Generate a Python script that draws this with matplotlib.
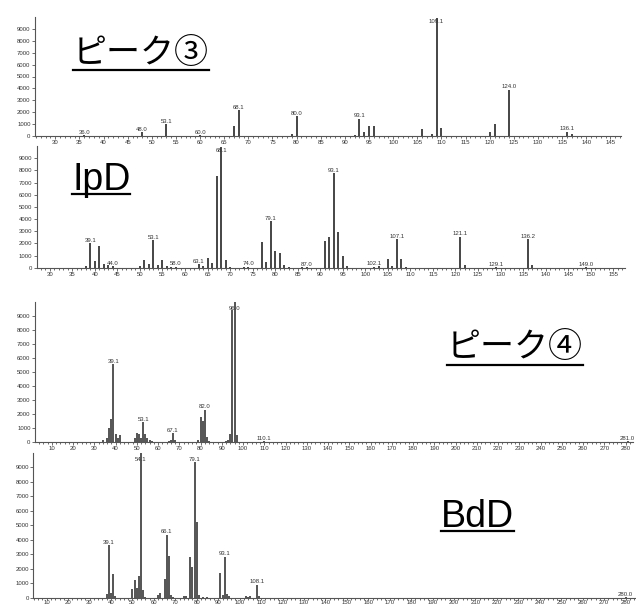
import matplotlib
matplotlib.use("Agg")
import matplotlib.pyplot as plt
from matplotlib.ticker import MultipleLocator
from matplotlib.lines import Line2D

# ---------------- data ----------------
# Panel A: ピーク③
a_mz  = [36, 48, 53, 60, 67, 68, 79, 80, 92, 93, 94, 95, 96, 106, 108, 109, 110, 120, 121, 124, 136, 137]
a_int = [60, 300, 1000, 60, 850, 2150, 200, 1650, 60, 1450, 300, 870, 870, 600, 150, 9950, 700, 300, 1000, 3900, 370, 150]
a_lbl_mz = [36, 48, 53, 60, 68, 80, 93, 109, 124, 136]
a_lbl    = ["36.0", "48.0", "53.1", "60.0", "68.1", "80.0", "93.1", "109.1", "124.0", "136.1"]

# Panel B: IpD
b_mz  = [38, 39, 40, 41, 42, 43, 44, 50, 51, 52, 53, 54, 55, 56, 57, 58, 63, 64, 65, 66, 67, 68, 69, 70,
         73, 74, 77, 78, 79, 80, 81, 82, 83, 86, 87, 91, 92, 93, 94, 95, 96, 102, 103, 105, 106, 107, 108, 109,
         121, 122, 129, 136, 137, 149]
b_int = [100, 2000, 550, 1780, 270, 250, 100, 150, 600, 300, 2250, 250, 650, 100, 80, 80, 300, 150, 820, 400, 7550, 9950, 650, 80,
         50, 80, 2100, 500, 3800, 1370, 1180, 200, 50, 50, 60, 2200, 2550, 7770, 2960, 960, 100, 80, 100, 720, 150, 2360, 680, 60,
         2550, 200, 60, 2360, 200, 60]
b_lbl_mz = [39, 44, 53, 58, 63, 68, 74, 79, 87, 93, 102, 107, 121, 129, 136, 149]
b_lbl    = ["39.1", "44.0", "53.1", "58.0", "63.1", "68.1", "74.0", "79.1", "87.0", "93.1", "102.1", "107.1",
            "121.1", "129.1", "136.2", "149.0"]

# Panel C: ピーク④
c_mz  = [34, 36, 37, 38, 39, 40, 41, 42, 49, 50, 51, 52, 53, 54, 55, 56, 57, 65, 66, 67, 68, 79, 80, 81, 82, 83, 84,
         92, 93, 94, 95, 96, 97, 110, 281]
c_int = [100, 300, 960, 1600, 5550, 550, 300, 500, 250, 620, 560, 300, 1400, 550, 300, 150, 60, 50, 150, 600, 150, 100,
         1750, 1480, 2280, 350, 80, 80, 100, 550, 9450, 10000, 500, 50, 30]
c_lbl_mz = [39, 53, 67, 82, 96, 110, 281]
c_lbl    = ["39.1", "53.1", "67.1", "82.0", "96.0", "110.1", "281.0"]

# Panel D: BdD
d_mz  = [38, 39, 40, 41, 42, 50, 51, 52, 53, 54, 55, 56, 62, 63, 65, 66, 67, 68, 69, 74, 75, 77, 78, 79, 80, 81,
         83, 85, 91, 92, 93, 94, 95, 103, 104, 105, 108, 109, 280]
d_int = [270, 3620, 340, 1650, 80, 610, 1220, 630, 1470, 10000, 540, 60, 180, 340, 1290, 4350, 2870, 180, 50, 100, 100,
         2780, 2080, 9380, 5200, 180, 60, 60, 1700, 200, 2830, 230, 80, 110, 60, 120, 880, 90, 30]
d_lbl_mz = [39, 54, 66, 79, 93, 108, 280]
d_lbl    = ["39.1", "54.1", "66.1", "79.1", "93.1", "108.1", "280.0"]

titles = ["ピーク③", "IpD", "ピーク④", "BdD"]

# ---------------- figure ----------------
W, H = 636, 605
fig = plt.figure(figsize=(W / 100, H / 100), dpi=100)

TICK_FONT = dict(family="Liberation Sans", size=4.3)
AX_COL = "#555555"
BAR_COL = "#262626"


def make_ax(l, r, t, b):
    return fig.add_axes([l / W, 1 - b / H, (r - l) / W, (b - t) / H])


def draw_panel(ax, mz, inten, lbl_mz, lbl, xlim, major, minor, lw, pad=1.2, tick_len=2):
    ax.vlines(mz, 0, inten, color=BAR_COL, lw=lw)
    lookup = dict(zip(mz, inten))
    for m, s in zip(lbl_mz, lbl):
        y = min(lookup.get(m, 0), 9350)
        ax.annotate(s, (m, y), xytext=(0, 0.3), textcoords="offset points",
                    ha="center", va="bottom", color="#333333",
                    annotation_clip=False, **TICK_FONT)
    ax.set_xlim(*xlim)
    ax.set_ylim(0, 10000)
    ax.set_yticks(range(0, 10000, 1000))
    ax.xaxis.set_major_locator(MultipleLocator(major))
    ax.xaxis.set_minor_locator(MultipleLocator(minor))
    for sp in ["top", "right"]:
        ax.spines[sp].set_visible(False)
    for sp in ["left", "bottom"]:
        ax.spines[sp].set_color(AX_COL)
        ax.spines[sp].set_linewidth(0.8)
    ax.tick_params(axis="y", which="major", length=2, width=0.6, color=AX_COL, pad=1.2,
                   labelcolor="#333333")
    ax.tick_params(axis="x", which="major", length=tick_len, width=0.6, color=AX_COL, pad=pad,
                   labelcolor="#333333")
    ax.tick_params(axis="x", which="minor", length=1.2, width=0.6, color=AX_COL)
    for t in ax.get_xticklabels() + ax.get_yticklabels():
        t.set_fontfamily(TICK_FONT["family"])
        t.set_fontsize(TICK_FONT["size"])
    ax.set_facecolor("none")


ax1 = make_ax(35, 621, 17, 136)
draw_panel(ax1, a_mz, a_int, a_lbl_mz, a_lbl, (25.8, 147.2), 5, 1, 1.2)

ax2 = make_ax(36.7, 625, 146, 267.7)
draw_panel(ax2, b_mz, b_int, b_lbl_mz, b_lbl, (27.1, 157.6), 5, 1, 1.2)

ax3 = make_ax(35, 633, 302, 441.7)
draw_panel(ax3, c_mz, c_int, c_lbl_mz, c_lbl, (2.1, 283.5), 10, 2, 1.1)

ax4 = make_ax(33.3, 635, 453, 597.5)
draw_panel(ax4, d_mz, d_int, d_lbl_mz, d_lbl, (3.75, 284.4), 10, 2, 1.1, pad=0.6, tick_len=1.5)

# ---------------- big underlined labels ----------------
title_specs = [
    (titles[0], 73, 53, "center", ["Noto Sans CJK JP", "DejaVu Sans"], 24.5),
    (titles[1], 72, 190, "baseline", ["Liberation Sans", "DejaVu Sans"], 27),
    (titles[2], 447, 348, "center", ["Noto Sans CJK JP", "DejaVu Sans"], 24.5),
    (titles[3], 441, 527, "baseline", ["Liberation Sans", "DejaVu Sans"], 27),
]
texts = []
for s, x, y, va, f, fs in title_specs:
    t = fig.text(x / W, 1 - y / H, s, ha="left", va=va, fontsize=fs, family=f, color="black")
    texts.append(t)

fig.canvas.draw()
r = fig.canvas.get_renderer()
for t, (s, x, y, va, f, fs) in zip(texts, title_specs):
    bb = t.get_window_extent(renderer=r)
    if va == "baseline":
        uy = (H - y) - 4
    else:
        uy = bb.y0 + 0.5
    fig.add_artist(Line2D([bb.x0 / W, bb.x1 / W], [uy / H, uy / H], transform=fig.transFigure,
                          color="black", lw=1.6))

fig.savefig("out.png", dpi=100, facecolor="white")
